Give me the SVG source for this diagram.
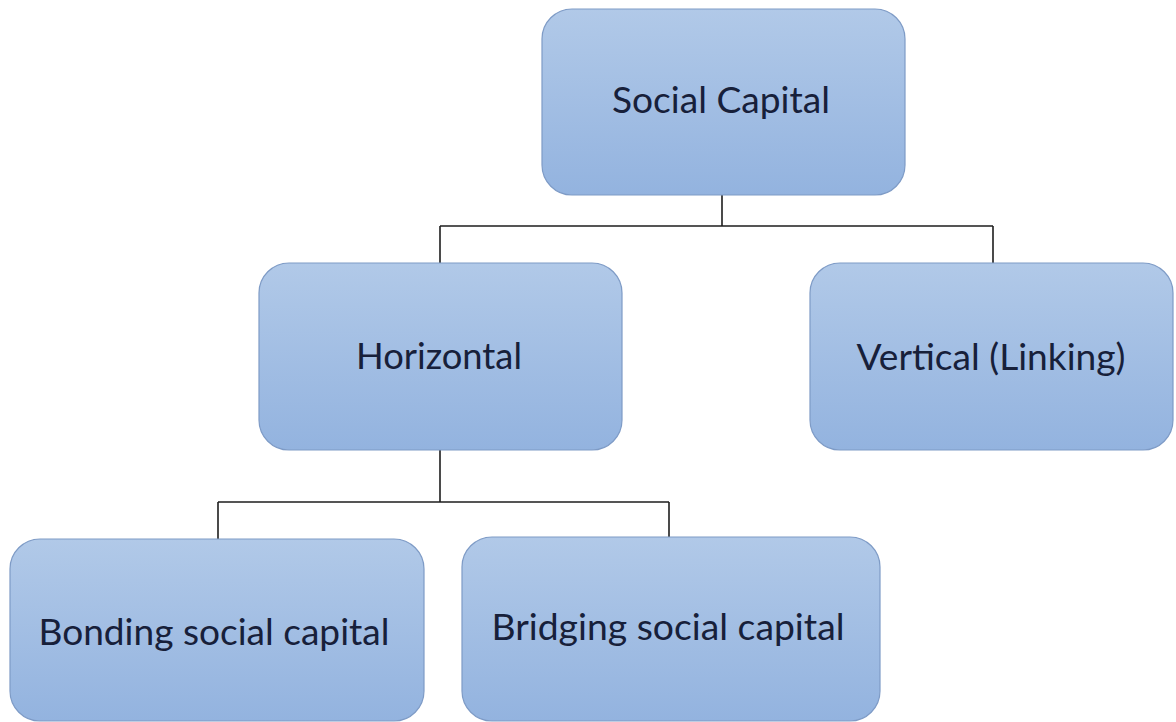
<svg xmlns="http://www.w3.org/2000/svg" width="1176" height="722" viewBox="0 0 1176 722">
  <defs>
    <linearGradient id="boxFill" x1="0" y1="0" x2="0" y2="1">
      <stop offset="0" stop-color="#b1c9e8"/>
      <stop offset="1" stop-color="#93b3df"/>
    </linearGradient>
  </defs>
  <style>
    .box { fill: url(#boxFill); stroke: #7e9bc6; stroke-width: 1.2; }
    .label { font-family: Lato, "Open Sans", "Liberation Sans", sans-serif; font-size: 36px; fill: #17203a; text-anchor: middle; }
    .link { fill: none; stroke: #1e1e1e; stroke-width: 1.6; }
  </style>

  <rect width="1176" height="722" fill="#ffffff"/>

  <!-- tree connectors -->
  <g id="connectors">
    <path class="link" d="M722 195 V226 M440 226 H993 M440 226 V263 M993 226 V263"/>
    <path class="link" d="M440 450 V502 M218 502 H669 M218 502 V540 M669 502 V537"/>
  </g>

  <g id="social-capital">
    <rect class="box" x="542" y="9" width="363" height="186" rx="30" ry="30"/>
    <text class="label" x="721" y="113" textLength="218" lengthAdjust="spacingAndGlyphs">Social Capital</text>
  </g>

  <g id="horizontal">
    <rect class="box" x="259" y="263" width="363" height="187" rx="30" ry="30"/>
    <text class="label" x="439" y="369" textLength="166" lengthAdjust="spacingAndGlyphs">Horizontal</text>
  </g>

  <g id="vertical-linking">
    <rect class="box" x="810" y="263" width="363" height="187" rx="30" ry="30"/>
    <text class="label" x="991" y="370" textLength="269" lengthAdjust="spacingAndGlyphs">Vertical (Linking)</text>
  </g>

  <g id="bonding">
    <rect class="box" x="10" y="539" width="414" height="182" rx="30" ry="30"/>
    <text class="label" x="214" y="645" textLength="351" lengthAdjust="spacingAndGlyphs">Bonding social capital</text>
  </g>

  <g id="bridging">
    <rect class="box" x="462" y="537" width="418" height="184" rx="30" ry="30"/>
    <text class="label" x="668" y="640" textLength="353" lengthAdjust="spacingAndGlyphs">Bridging social capital</text>
  </g>
</svg>
